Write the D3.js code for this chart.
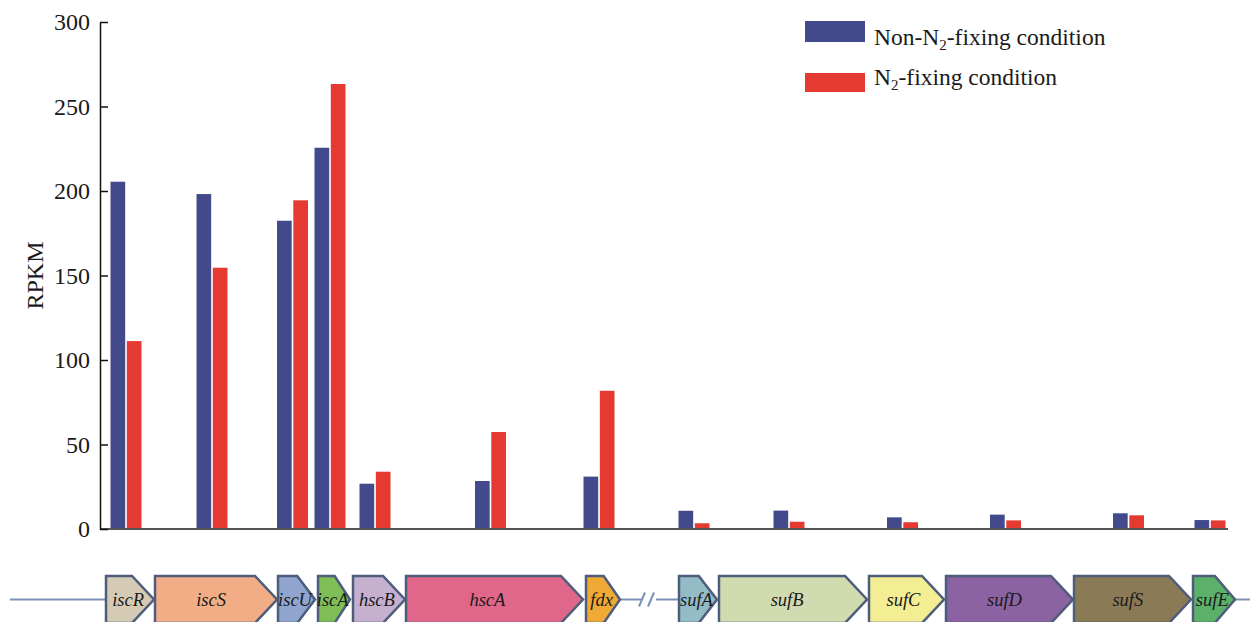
<!DOCTYPE html>
<html>
<head>
<meta charset="utf-8">
<script src="https://cdn.jsdelivr.net/npm/d3@7"></script>
<style>
  html, body { margin: 0; padding: 0; background: #fff; }
  svg { display: block; }
  text { font-family: "Liberation Serif", "Times New Roman", serif; }
</style>
</head>
<body>
<svg id="chart" width="1250" height="622"></svg>
<script>
// Genes of the isc / suf operons, in map order
const genes = ["iscR", "iscS", "iscU", "iscA", "hscB", "hscA", "fdx",
               "sufA", "sufB", "sufC", "sufD", "sufS", "sufE"];

// Expression (RPKM) under each condition
const nonFixing = [205.5, 198.2, 182.4, 225.6, 26.8, 28.4, 31.0, 10.8, 10.9, 6.9, 8.5, 9.3, 5.3];
const fixing    = [111.2, 154.6, 194.5, 263.3, 33.9, 57.4, 81.8, 3.4, 4.3, 4.0, 5.1, 8.1, 5.1];

// Gene map coordinates (arbitrary map units along the locus)
const geneStart = [6, 55, 178, 218, 253, 306, 486, 579, 619, 769, 846, 974, 1093];
const geneEnd   = [54, 177, 215, 250, 305, 483, 520, 617, 767, 844, 973, 1091, 1135];

const yTicks = [0, 50, 100, 150, 200, 250, 300];

// Fill for each gene arrow
const geneColors = ["#d5cbb4", "#f2ad86", "#8fa5cf", "#7fbd57", "#c5b1cf", "#e0678a", "#f0a935",
                    "#93bcc6", "#d1dbb0", "#f3ee94", "#8b62a2", "#8a7a56", "#5db06a"];
const seriesColors = ["#434a8c", "#e53a32"];

const svg = d3.select("#chart");

// Map coordinates -> pixels
const x = d3.scaleLinear().domain([0, 1150]).range([100, 1250]);
const y = d3.scaleLinear().domain([0, 300]).range([529, 22]);

// Two bars per gene, side by side around the gene centre
const inner = d3.scaleBand().domain([0, 1]).range([-15.5, 15.5]).paddingInner(0.1);

const barData = genes.map((g, i) => ({
  gene: g,
  centre: (x(geneStart[i]) + x(geneEnd[i])) / 2 - 4,
  values: [nonFixing[i], fixing[i]]
}));

// Bars
const groups = svg.append("g").selectAll("g")
  .data(barData)
  .join("g")
  .attr("transform", d => `translate(${d.centre},0)`);

groups.selectAll("rect")
  .data(d => d.values.map((v, k) => ({ v, k })))
  .join("rect")
  .attr("x", d => inner(d.k))
  .attr("width", inner.bandwidth())
  .attr("y", d => y(d.v))
  .attr("height", d => y(0) - y(d.v))
  .attr("fill", d => seriesColors[d.k]);

// Baseline
svg.append("line")
  .attr("x1", x(0)).attr("x2", x(1128))
  .attr("y1", y(0)).attr("y2", y(0))
  .attr("stroke", "#555").attr("stroke-width", 2);

// Y axis with inward ticks
const yAxis = d3.axisLeft(y)
  .tickValues(yTicks)
  .tickSizeInner(-8)
  .tickSizeOuter(0)
  .tickPadding(10);

const yg = svg.append("g")
  .attr("transform", `translate(${x(0)},0)`)
  .call(yAxis);
yg.select(".domain").attr("stroke", "#111").attr("stroke-width", 1.5);
yg.selectAll(".tick line").attr("stroke", "#111").attr("stroke-width", 1.5);
yg.selectAll(".tick text")
  .attr("font-family", "'Liberation Serif', 'Times New Roman', serif")
  .attr("font-size", 24)
  .attr("fill", "#1a1a1a");

// Y axis title
svg.append("text")
  .attr("transform", `translate(43,${y(150)}) rotate(-90)`)
  .attr("text-anchor", "middle")
  .attr("font-size", 24)
  .attr("fill", "#1a1a1a")
  .text("RPKM");

// Legend
const legend = svg.append("g");
const legendRows = [
  { pre: "Non-N", post: "-fixing condition", ry: 21, rh: 21, ty: 45 },
  { pre: "N", post: "-fixing condition", ry: 73, rh: 19, ty: 85 }
];
legendRows.forEach((r, k) => {
  legend.append("rect")
    .attr("x", 805).attr("y", r.ry)
    .attr("width", 60).attr("height", r.rh)
    .attr("fill", seriesColors[k]);
  const t = legend.append("text")
    .attr("x", 874).attr("y", r.ty)
    .attr("font-size", 23.5)
    .attr("fill", "#1a1a1a");
  t.append("tspan").text(r.pre);
  t.append("tspan").attr("font-size", 15).attr("dy", 5).text("2");
  t.append("tspan").attr("dy", -5).text(r.post);
});

// Gene map
const mapY = 599.5, halfH = 23.5;
const lineColor = "#7b91b6";
const map = svg.append("g");

const backbone = [[10, x(geneStart[0])], [x(geneEnd[6]), 641], [656, x(geneStart[7])], [x(geneEnd[12]), 1250]];
backbone.forEach(([a, b]) => {
  map.append("line")
    .attr("x1", a).attr("x2", b)
    .attr("y1", mapY).attr("y2", mapY)
    .attr("stroke", lineColor).attr("stroke-width", 2);
});
// Break marks between the two loci
[639, 648].forEach(sx => {
  map.append("line")
    .attr("x1", sx).attr("y1", mapY + 7)
    .attr("x2", sx + 6).attr("y2", mapY - 7)
    .attr("stroke", lineColor).attr("stroke-width", 2);
});

const arrowPath = (s, e) => {
  const head = Math.min(22, (e - s) * 0.48);
  const sh = e - head;
  return `M${s},${mapY - halfH}L${sh},${mapY - halfH}L${e},${mapY}L${sh},${mapY + halfH}L${s},${mapY + halfH}Z`;
};

const arrows = map.selectAll("g.gene")
  .data(genes.map((g, i) => ({ g, s: x(geneStart[i]), e: x(geneEnd[i]), c: geneColors[i] })))
  .join("g").attr("class", "gene");

arrows.append("path")
  .attr("d", d => arrowPath(d.s, d.e))
  .attr("fill", d => d.c)
  .attr("stroke", "#4e5d7b")
  .attr("stroke-width", 2.5)
  .attr("stroke-linejoin", "miter");

arrows.append("text")
  .attr("x", d => d.s + (d.e - d.s) * 0.46)
  .attr("y", mapY + 6)
  .attr("text-anchor", "middle")
  .attr("font-style", "italic")
  .attr("font-size", 18.5)
  .attr("fill", "#1a1a1a")
  .text(d => d.g);
</script>
</body>
</html>
